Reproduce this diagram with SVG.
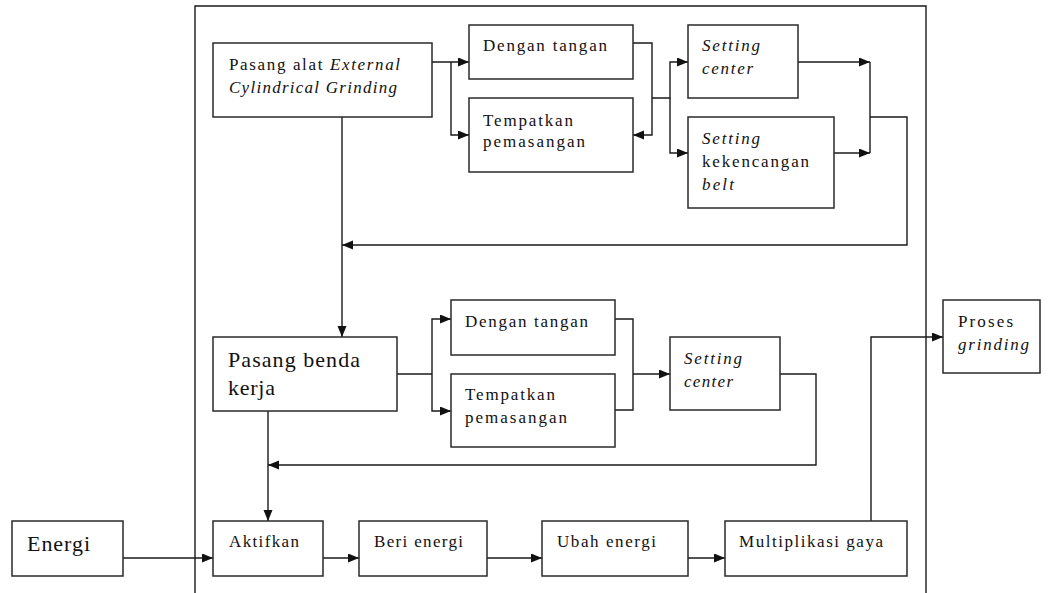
<svg xmlns="http://www.w3.org/2000/svg" width="1048" height="593" viewBox="0 0 1048 593">
<defs>
<marker id="arr" markerUnits="userSpaceOnUse" markerWidth="12" markerHeight="10" refX="11" refY="4.5" orient="auto" viewBox="0 0 12 10">
<path d="M0,0 L11,4.5 L0,9 z" fill="#111"/>
</marker>
</defs>
<style>
.box{fill:#fff;stroke:#2a2a2a;stroke-width:1.5}
.ln{fill:none;stroke:#1a1a1a;stroke-width:1.4}
.ar{marker-end:url(#arr)}
text{font-family:"Liberation Serif","Times New Roman",serif;fill:#111;font-size:17px}
.lg{font-size:22px}
.it{font-style:italic}
</style>
<rect width="1048" height="593" fill="#fff"/>
<g id="frame"><path class="ln" d="M195 593 V6 H926 V593"/></g>

<g id="connectors">
<path class="ln ar" d="M432 62 H469"/>
<path class="ln ar" d="M451 62 V135 H469"/>
<path class="ln ar" d="M633 43 H652 V135 H633"/>
<path class="ln ar" d="M652 98 H670 V62 H688"/>
<path class="ln ar" d="M670 98 V153 H688"/>
<path class="ln ar" d="M798 62 H870"/>
<path class="ln ar" d="M834 153 H870"/>
<path class="ln" d="M870 62 V153"/>
<path class="ln ar" d="M870 117 H907 V245 H342"/>
<path class="ln ar" d="M342 117 V337"/>
<path class="ln" d="M397 374 H432"/>
<path class="ln ar" d="M432 374 V319 H451"/>
<path class="ln ar" d="M432 374 V411 H451"/>
<path class="ln" d="M615 319 H633 V410 H615"/>
<path class="ln ar" d="M633 374 H670"/>
<path class="ln ar" d="M780 374 H816 V465 H268"/>
<path class="ln ar" d="M268 411 V521"/>
<path class="ln ar" d="M123 558 H213"/>
<path class="ln ar" d="M323 558 H359"/>
<path class="ln ar" d="M487 558 H542"/>
<path class="ln ar" d="M688 558 H725"/>
<path class="ln ar" d="M871 521 V337 H943"/>
</g>

<g id="pasang-alat">
<rect class="box" x="213" y="43" width="219" height="74"/>
<text x="229" y="70" textLength="171" lengthAdjust="spacing">Pasang alat <tspan class="it">External</tspan></text>
<text x="229" y="93" class="it" textLength="168" lengthAdjust="spacing">Cylindrical Grinding</text>
</g>
<g id="dengan-tangan-1">
<rect class="box" x="469" y="25" width="164" height="54"/>
<text x="483" y="51" textLength="124" lengthAdjust="spacing">Dengan tangan</text>
</g>
<g id="tempatkan-1">
<rect class="box" x="469" y="98" width="164" height="74"/>
<text x="483" y="126" textLength="90" lengthAdjust="spacing">Tempatkan</text>
<text x="483" y="147" textLength="102" lengthAdjust="spacing">pemasangan</text>
</g>
<g id="setting-center-1">
<rect class="box" x="688" y="25" width="110" height="73"/>
<text x="702" y="51" class="it" textLength="58" lengthAdjust="spacing">Setting</text>
<text x="702" y="74" class="it" textLength="51" lengthAdjust="spacing">center</text>
</g>
<g id="setting-kekencangan">
<rect class="box" x="688" y="117" width="146" height="91"/>
<text x="702" y="144" class="it" textLength="58" lengthAdjust="spacing">Setting</text>
<text x="702" y="167" textLength="107" lengthAdjust="spacing">kekencangan</text>
<text x="702" y="190" class="it" textLength="32" lengthAdjust="spacing">belt</text>
</g>
<g id="pasang-benda">
<rect class="box" x="213" y="337" width="184" height="74"/>
<text x="228" y="367" class="lg" textLength="132" lengthAdjust="spacing">Pasang benda</text>
<text x="228" y="395" class="lg" textLength="47" lengthAdjust="spacing">kerja</text>
</g>
<g id="dengan-tangan-2">
<rect class="box" x="451" y="300" width="164" height="55"/>
<text x="465" y="327" textLength="123" lengthAdjust="spacing">Dengan tangan</text>
</g>
<g id="tempatkan-2">
<rect class="box" x="451" y="374" width="164" height="73"/>
<text x="465" y="400" textLength="90" lengthAdjust="spacing">Tempatkan</text>
<text x="465" y="423" textLength="102" lengthAdjust="spacing">pemasangan</text>
</g>
<g id="setting-center-2">
<rect class="box" x="670" y="337" width="110" height="73"/>
<text x="684" y="364" class="it" textLength="58" lengthAdjust="spacing">Setting</text>
<text x="684" y="387" class="it" textLength="49" lengthAdjust="spacing">center</text>
</g>
<g id="energi">
<rect class="box" x="12" y="521" width="111" height="55"/>
<text x="27" y="551" class="lg" textLength="63" lengthAdjust="spacing">Energi</text>
</g>
<g id="aktifkan">
<rect class="box" x="213" y="521" width="110" height="55"/>
<text x="229" y="547" textLength="70" lengthAdjust="spacing">Aktifkan</text>
</g>
<g id="beri-energi">
<rect class="box" x="359" y="521" width="128" height="55"/>
<text x="374" y="547" textLength="89" lengthAdjust="spacing">Beri energi</text>
</g>
<g id="ubah-energi">
<rect class="box" x="542" y="521" width="146" height="55"/>
<text x="557" y="547" textLength="99" lengthAdjust="spacing">Ubah energi</text>
</g>
<g id="multiplikasi-gaya">
<rect class="box" x="725" y="521" width="182" height="55"/>
<text x="739" y="547" textLength="144" lengthAdjust="spacing">Multiplikasi gaya</text>
</g>
<g id="proses-grinding">
<rect class="box" x="943" y="300" width="97" height="73"/>
<text x="958" y="327" textLength="55" lengthAdjust="spacing">Proses</text>
<text x="958" y="350" class="it" textLength="71" lengthAdjust="spacing">grinding</text>
</g>
</svg>
